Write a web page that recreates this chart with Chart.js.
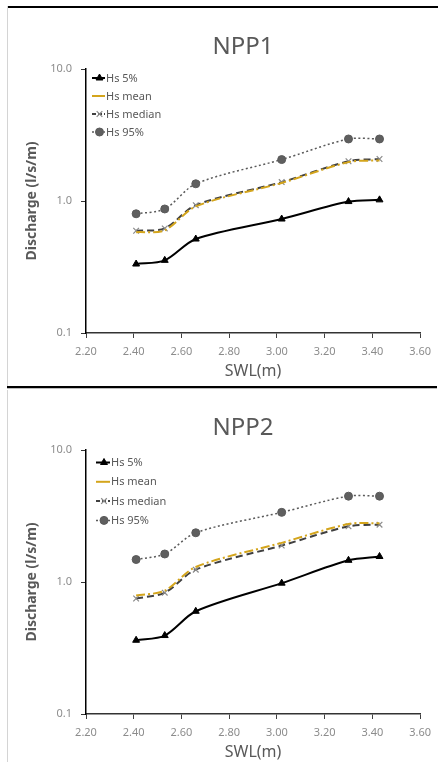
<!DOCTYPE html>
<html>
<head>
<meta charset="utf-8">
<script src="https://cdn.jsdelivr.net/npm/chart.js@4.4.1/dist/chart.umd.min.js"></script>
<style>
  html, body { margin: 0; padding: 0; background: #fff; }
  body { width: 438px; height: 762px; position: relative; overflow: hidden; }
  .line { position: absolute; }
  canvas { position: absolute; left: 0; }
</style>
</head>
<body>
<div class="line" style="left:7px;top:6px;width:431px;height:2px;background:#000;"></div>
<div class="line" style="left:7px;top:6px;width:1px;height:380px;background:#d4d4d4;"></div>
<div class="line" style="left:7px;top:386px;width:430px;height:2px;background:#000;"></div>
<div class="line" style="left:7px;top:388px;width:430px;height:1px;background:#bdbdbd;"></div>
<div class="line" style="left:7px;top:390px;width:1px;height:372px;background:#d4d4d4;"></div>
<canvas id="c1" width="438" height="381" style="top:0px"></canvas>
<canvas id="c2" width="438" height="381" style="top:381px"></canvas>
<script>
// ---- data ----
const swl = [2.41, 2.53, 2.66, 3.02, 3.30, 3.43];
const seriesNames = ['Hs 5%', 'Hs mean', 'Hs median', 'Hs 95%'];
const npp1Hs5    = [0.333, 0.355, 0.515, 0.73, 0.99, 1.02];
const npp1Mean   = [0.58, 0.60, 0.91, 1.37, 1.97, 2.03];
const npp1Median = [0.595, 0.62, 0.93, 1.39, 2.00, 2.08];
const npp1Hs95   = [0.80, 0.87, 1.35, 2.06, 2.95, 2.95];
const npp2Hs5    = [0.362, 0.393, 0.60, 0.98, 1.46, 1.56];
const npp2Mean   = [0.79, 0.86, 1.30, 1.98, 2.75, 2.79];
const npp2Median = [0.75, 0.83, 1.24, 1.89, 2.64, 2.72];
const npp2Hs95   = [1.48, 1.63, 2.36, 3.37, 4.47, 4.47];
const xTicks = [2.20, 2.40, 2.60, 2.80, 3.00, 3.20, 3.40, 3.60];
const yTicks = [0.1, 1, 10];
const chartTitles = ['NPP1', 'NPP2'];
const xTitle = 'SWL(m)';
const yTitle = 'Discharge (l/s/m)';

const FONT = "'Noto Sans', 'DejaVu Sans', sans-serif";

const styles = [
  { borderColor: '#000000', backgroundColor: '#000000', borderWidth: 2, borderDash: [], pointStyle: 'triangle', pointRadius: 4, pointBorderWidth: 1 },
  { borderColor: '#D4A51C', backgroundColor: '#D4A51C', borderWidth: 2, borderDash: [9, 3, 2, 3], pointStyle: false, pointRadius: 0, pointBorderWidth: 0 },
  { borderColor: '#404040', backgroundColor: '#8a8a8a', borderWidth: 2, borderDash: [7, 4], pointStyle: 'crossRot', pointRadius: 4, pointBorderWidth: 1.2, pointBorderColor: '#8a8a8a' },
  { borderColor: '#5a5a5a', backgroundColor: '#5f5f5f', borderWidth: 1.5, borderDash: [2, 2.5], pointStyle: 'circle', pointRadius: 4, pointBorderWidth: 1 }
];

function makeDatasets(arrs) {
  return arrs.map((vals, i) => {
    const s = styles[i];
    return {
      label: seriesNames[i],
      data: swl.map((x, k) => ({ x: x, y: vals[k] })),
      borderColor: s.borderColor,
      backgroundColor: s.backgroundColor,
      borderWidth: s.borderWidth,
      borderDash: s.borderDash,
      pointStyle: s.pointStyle,
      pointRadius: s.pointRadius,
      pointBorderWidth: s.pointBorderWidth,
      pointBorderColor: s.pointBorderColor || s.borderColor,
      pointBackgroundColor: s.backgroundColor,
      tension: 0.3,
      fill: false
    };
  });
}

const overlayPlugin = {
  id: 'overlay',
  afterDraw(chart, args, opts) {
    const ctx = chart.ctx;
    ctx.save();
    // title
    ctx.fillStyle = '#595959';
    ctx.font = '24px ' + FONT;
    ctx.textAlign = 'center';
    ctx.textBaseline = 'middle';
    ctx.fillText(opts.title, opts.titleX, opts.titleY);
    // legend inside plot
    ctx.font = '11px ' + FONT;
    ctx.textAlign = 'left';
    chart.data.datasets.forEach((ds, i) => {
      const y = opts.legY + i * opts.legDy;
      const x0 = opts.legX, x1 = opts.legX + opts.legW;
      ctx.save();
      ctx.strokeStyle = ds.borderColor;
      ctx.lineWidth = ds.borderWidth;
      ctx.setLineDash(i === 3 ? [2, 2] : (i === 2 ? [4, 2] : []));
      ctx.beginPath();
      ctx.moveTo(x0, y);
      ctx.lineTo(x1, y);
      ctx.stroke();
      ctx.setLineDash([]);
      if (ds.pointStyle) {
        ctx.fillStyle = ds.pointBackgroundColor;
        ctx.strokeStyle = ds.pointBorderColor;
        ctx.lineWidth = ds.pointBorderWidth;
        Chart.helpers.drawPoint(ctx, { pointStyle: ds.pointStyle, radius: ds.pointRadius, rotation: 0, borderWidth: ds.pointBorderWidth }, (x0 + x1) / 2 + 1, y);
      }
      ctx.restore();
      ctx.fillStyle = '#595959';
      ctx.textBaseline = 'middle';
      ctx.fillText(ds.label, opts.textX, y + 0.5);
    });
    ctx.restore();
  }
};

function makeChart(id, arrs, title, rightPad, leg) {
  return new Chart(document.getElementById(id), {
    type: 'line',
    data: { datasets: makeDatasets(arrs) },
    plugins: [overlayPlugin],
    options: {
      responsive: false,
      animation: false,
      devicePixelRatio: 1,
      layout: { padding: { top: 69, right: rightPad, bottom: 0, left: 0 } },
      plugins: {
        legend: { display: false },
        title: { display: false },
        tooltip: { enabled: false },
        overlay: Object.assign({ title: title, titleX: 243, titleY: 47 }, leg)
      },
      scales: {
        x: {
          type: 'linear',
          min: 2.2, max: 3.6,
          afterBuildTicks: s => { s.ticks = xTicks.map(v => ({ value: v })); },
          afterFit: s => { s.height = 48; },
          ticks: { callback: v => Number(v).toFixed(2), color: '#8c8c8c', font: { size: 11, family: FONT }, padding: 7, maxRotation: 0, autoSkip: false },
          grid: { display: true, drawOnChartArea: false, drawTicks: true, tickLength: 5, color: '#404040', lineWidth: 1 },
          border: { display: true, color: '#333333', width: 1.5 },
          title: { display: true, text: xTitle, color: '#595959', font: { size: 16, family: FONT }, padding: { top: 0, bottom: 0 } }
        },
        y: {
          type: 'logarithmic',
          min: 0.1, max: 10,
          afterBuildTicks: s => { s.ticks = yTicks.map(v => ({ value: v })); },
          afterFit: s => { s.width = 86; },
          ticks: { callback: v => Number(v).toFixed(1), color: '#8c8c8c', font: { size: 11, family: FONT }, padding: 9, autoSkip: false },
          grid: { display: true, drawOnChartArea: false, drawTicks: true, tickLength: 5, color: '#333333', lineWidth: 1 },
          border: { display: true, color: '#000000', width: 1.5 },
          title: { display: true, text: yTitle, color: '#595959', font: { size: 14, weight: 'bold', family: FONT }, padding: { top: 24, bottom: 0 } }
        }
      }
    }
  });
}

makeChart('c1', [npp1Hs5, npp1Mean, npp1Median, npp1Hs95], chartTitles[0], 13,
  { legX: 92, legW: 13, textX: 106, legY: 78, legDy: 18 });
makeChart('c2', [npp2Hs5, npp2Mean, npp2Median, npp2Hs95], chartTitles[1], 14,
  { legX: 96, legW: 14, textX: 111, legY: 81.5, legDy: 19.3 });
</script>
</body>
</html>
